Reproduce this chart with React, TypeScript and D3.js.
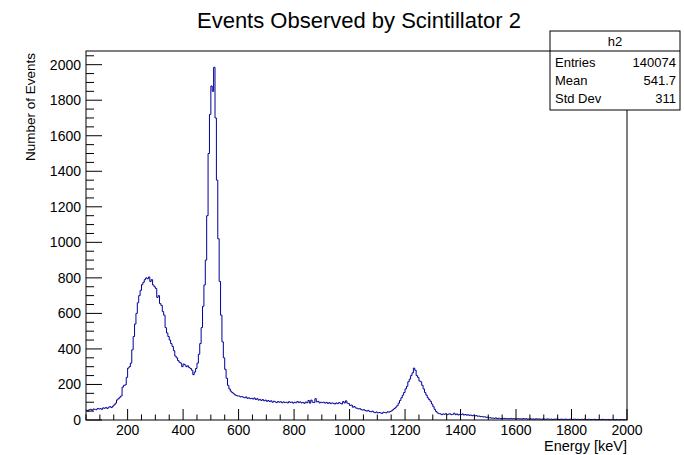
import React from "react";
import * as d3 from "d3";

const BIN_START = 50;
const BIN_WIDTH = 5;
// counts per 5 keV bin, starting at 50 keV
const counts: number[] = [
  // 50-95
  55, 50, 58, 60, 55, 62, 60, 58, 65, 62,
  // 100-195
  64, 60, 68, 66, 70, 65, 72, 75, 70, 78, 85, 95, 113, 120, 128, 135, 185, 195, 198, 240,
  // 200-295
  292, 300, 320, 395, 470, 540, 600, 660, 700, 730, 762, 775, 790, 800, 795, 805, 780, 790, 760, 750,
  // 300-395
  740, 690, 700, 655, 645, 610, 590, 520, 490, 470, 450, 430, 414, 390, 360, 350, 335, 325, 320, 300,
  // 400-495
  315, 310, 300, 305, 295, 290, 280, 255, 270, 290, 320, 370, 430, 520, 640, 760, 900, 1150, 1500, 1720,
  // 500-595
  1880, 1850, 1985, 1700, 1350, 1020, 780, 590, 440, 350, 285, 235, 195, 175, 162, 155, 148, 142, 138, 135,
  // 600-695
  135, 130, 132, 128, 125, 130, 122, 125, 120, 122, 118, 124, 115, 120, 112, 116, 110, 115, 108, 112,
  // 700-795
  105, 110, 104, 108, 100, 106, 102, 98, 104, 100, 103, 97, 102, 98, 100, 96, 103, 99, 101, 95,
  // 800-895
  100, 97, 104, 98, 102, 96, 99, 94, 101, 97, 110, 95, 112, 100, 98, 120, 102, 105, 96, 100,
  // 900-995
  98, 100, 95, 99, 93, 98, 92, 96, 94, 90, 96, 92, 98, 94, 90, 104, 96, 108, 95, 92,
  // 1000-1095
  82, 84, 72, 76, 68, 66, 62, 64, 58, 56, 58, 53, 50, 54, 48, 46, 50, 44, 41, 45,
  // 1100-1195
  40, 42, 40, 37, 44, 42, 40, 46, 44, 48, 52, 58, 65, 72, 80, 95, 110, 125, 140, 155,
  // 1200-1295
  175, 190, 215, 230, 250, 265, 292, 280, 250, 240, 220, 215, 195, 175, 155, 140, 125, 115, 105, 90,
  // 1300-1395
  75, 60, 48, 40, 36, 35, 30, 34, 32, 36, 30, 33, 35, 30, 32, 38, 30, 34, 28, 32,
  // 1400-1495
  30, 34, 28, 31, 27, 30, 26, 28, 24, 27, 23, 25, 21, 22, 19, 20, 17, 18, 15, 16,
  // 1500-1595
  12, 13, 10, 11, 9, 12, 8, 10, 9, 7, 10, 8, 9, 7, 8, 6, 9, 7, 8, 6,
  // 1600-1695
  7, 8, 6, 7, 5, 8, 6, 7, 5, 6, 7, 5, 6, 4, 7, 5, 6, 5, 4, 6,
  // 1700-1795
  5, 4, 6, 5, 4, 5, 3, 5, 4, 6, 4, 3, 5, 4, 3, 5, 4, 3, 4, 5,
  // 1800-1895
  3, 4, 5, 3, 4, 3, 2, 4, 3, 5, 3, 2, 4, 3, 2, 3, 4, 2, 3, 2,
  // 1900-1995
  3, 2, 4, 2, 3, 2, 3, 1, 2, 3, 2, 1, 3, 2, 1, 2, 3, 1, 2, 2,
];

const xTicks = [200, 400, 600, 800, 1000, 1200, 1400, 1600, 1800, 2000];
const yTicks = [0, 200, 400, 600, 800, 1000, 1200, 1400, 1600, 1800, 2000];
const statLabels = ["Entries", "Mean", "Std Dev"];
const statValues = ["140074", "541.7", "311"];

const W = 684;
const H = 455;
const FL = 86, FR = 627, FT = 51, FB = 420;
const FONT = "'Liberation Sans', Arial, Helvetica, sans-serif";

export default function App() {
  const x = d3.scaleLinear().domain([50, 2000]).range([FL, FR]);
  const y = d3.scaleLinear().domain([0, 2077]).range([FB, FT]);

  const pts: [number, number][] = [];
  counts.forEach((c, i) => {
    const x0 = BIN_START + i * BIN_WIDTH;
    pts.push([x(x0), y(c)]);
    pts.push([x(x0 + BIN_WIDTH), y(c)]);
  });
  const histPath = d3.line()(pts) || "";

  const xMinor = d3.range(50, 2001, 50).filter((v) => v % 200 !== 0);
  const yMinor = d3.range(0, 2051, 50).filter((v) => v % 200 !== 0);

  return (
    <svg
      width={W}
      height={H}
      style={{ position: "absolute", left: 0, top: 0, background: "#fff" }}
      fontFamily={FONT}
    >
      <rect x={0} y={0} width={W} height={H} fill="#fff" />
      <text x={359} y={28} fontSize={22} textAnchor="middle" fill="#000">
        Events Observed by Scintillator 2
      </text>

      <path d={histPath} fill="none" stroke="#000099" strokeWidth={1} />

      <rect x={FL} y={FT} width={FR - FL} height={FB - FT} fill="none" stroke="#000" strokeWidth={1} />

      {xTicks.map((t) => (
        <g key={"xt" + t}>
          <line x1={x(t)} x2={x(t)} y1={FB} y2={FB - 11} stroke="#000" />
          <text x={x(t)} y={435} fontSize={14} textAnchor="middle">{t}</text>
        </g>
      ))}
      {xMinor.map((t) => (
        <line key={"xm" + t} x1={x(t)} x2={x(t)} y1={FB} y2={FB - 5.5} stroke="#000" />
      ))}
      {yTicks.map((t) => (
        <g key={"yt" + t}>
          <line x1={FL} x2={FL + 16} y1={y(t)} y2={y(t)} stroke="#000" />
          <text x={81} y={y(t) + 5} fontSize={14} textAnchor="end">{t}</text>
        </g>
      ))}
      {yMinor.map((t) => (
        <line key={"ym" + t} x1={FL} x2={FL + 8} y1={y(t)} y2={y(t)} stroke="#000" />
      ))}

      <text x={FR} y={451} fontSize={14.5} textAnchor="end">Energy [keV]</text>
      <text transform={`translate(35,${FT + 2}) rotate(-90)`} fontSize={13.5} textAnchor="end">
        Number of Events
      </text>

      <g>
        <rect x={550} y={31} width={130} height={79} fill="#fff" stroke="#000" strokeWidth={1} />
        <line x1={550} x2={680} y1={51} y2={51} stroke="#000" />
        <text x={615} y={46} fontSize={13} textAnchor="middle">h2</text>
        {statLabels.map((l, i) => (
          <g key={l}>
            <text x={555} y={67 + i * 18} fontSize={13}>{l}</text>
            <text x={676} y={67 + i * 18} fontSize={13} textAnchor="end">{statValues[i]}</text>
          </g>
        ))}
      </g>
    </svg>
  );
}
